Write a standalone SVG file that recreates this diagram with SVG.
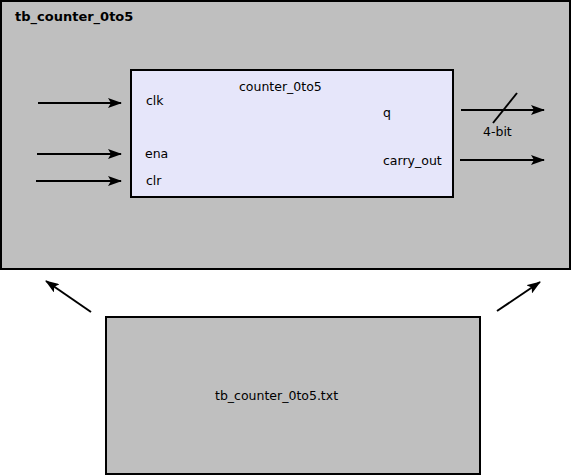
<svg xmlns="http://www.w3.org/2000/svg" width="572" height="476" viewBox="0 0 572 476">
<defs>
<marker id="ah" viewBox="0 0 14 10" refX="13" refY="5" markerWidth="14" markerHeight="10" markerUnits="userSpaceOnUse" orient="auto">
<path d="M0,0 L14,5 L0,10 L3,5 Z" fill="#000"/>
</marker>
</defs>
<style>
text{font-family:"DejaVu Sans",sans-serif;font-size:12.5px;fill:#000}
.b{font-weight:bold;font-size:13px}
.box{stroke:#000;stroke-width:2}
.c{stroke:#000;stroke-width:2;fill:none;marker-end:url(#ah)}
</style>
<rect width="572" height="476" fill="#fff"/>
<g id="tb">
<rect class="box" x="1" y="1" width="569" height="268" fill="#bfbfbf"/>
<text class="b" x="15" y="21">tb_counter_0to5</text>
</g>
<g id="counter">
<rect class="box" x="131" y="70" width="322" height="127" fill="#e6e6fa"/>
<text x="239" y="91">counter_0to5</text>
<text x="146" y="105">clk</text>
<text x="145" y="158">ena</text>
<text x="146" y="185">clr</text>
<text x="383" y="117">q</text>
<text x="383" y="165">carry_out</text>
</g>
<g id="txt">
<rect class="box" x="106" y="317" width="374" height="157" fill="#bfbfbf"/>
<text x="215" y="400">tb_counter_0to5.txt</text>
</g>
<g id="connectors">
<line class="c" x1="38" y1="103" x2="121" y2="103"/>
<line class="c" x1="37" y1="154" x2="121" y2="154"/>
<line class="c" x1="36" y1="181" x2="121" y2="181"/>
<line class="c" x1="461" y1="110" x2="544" y2="110"/>
<line x1="493" y1="123" x2="517" y2="93" stroke="#000" stroke-width="2"/>
<text x="483" y="136">4-bit</text>
<line class="c" x1="460" y1="160" x2="544" y2="160"/>
<line class="c" x1="91" y1="312" x2="46" y2="281"/>
<line class="c" x1="497" y1="311" x2="540" y2="282"/>
</g>
</svg>
